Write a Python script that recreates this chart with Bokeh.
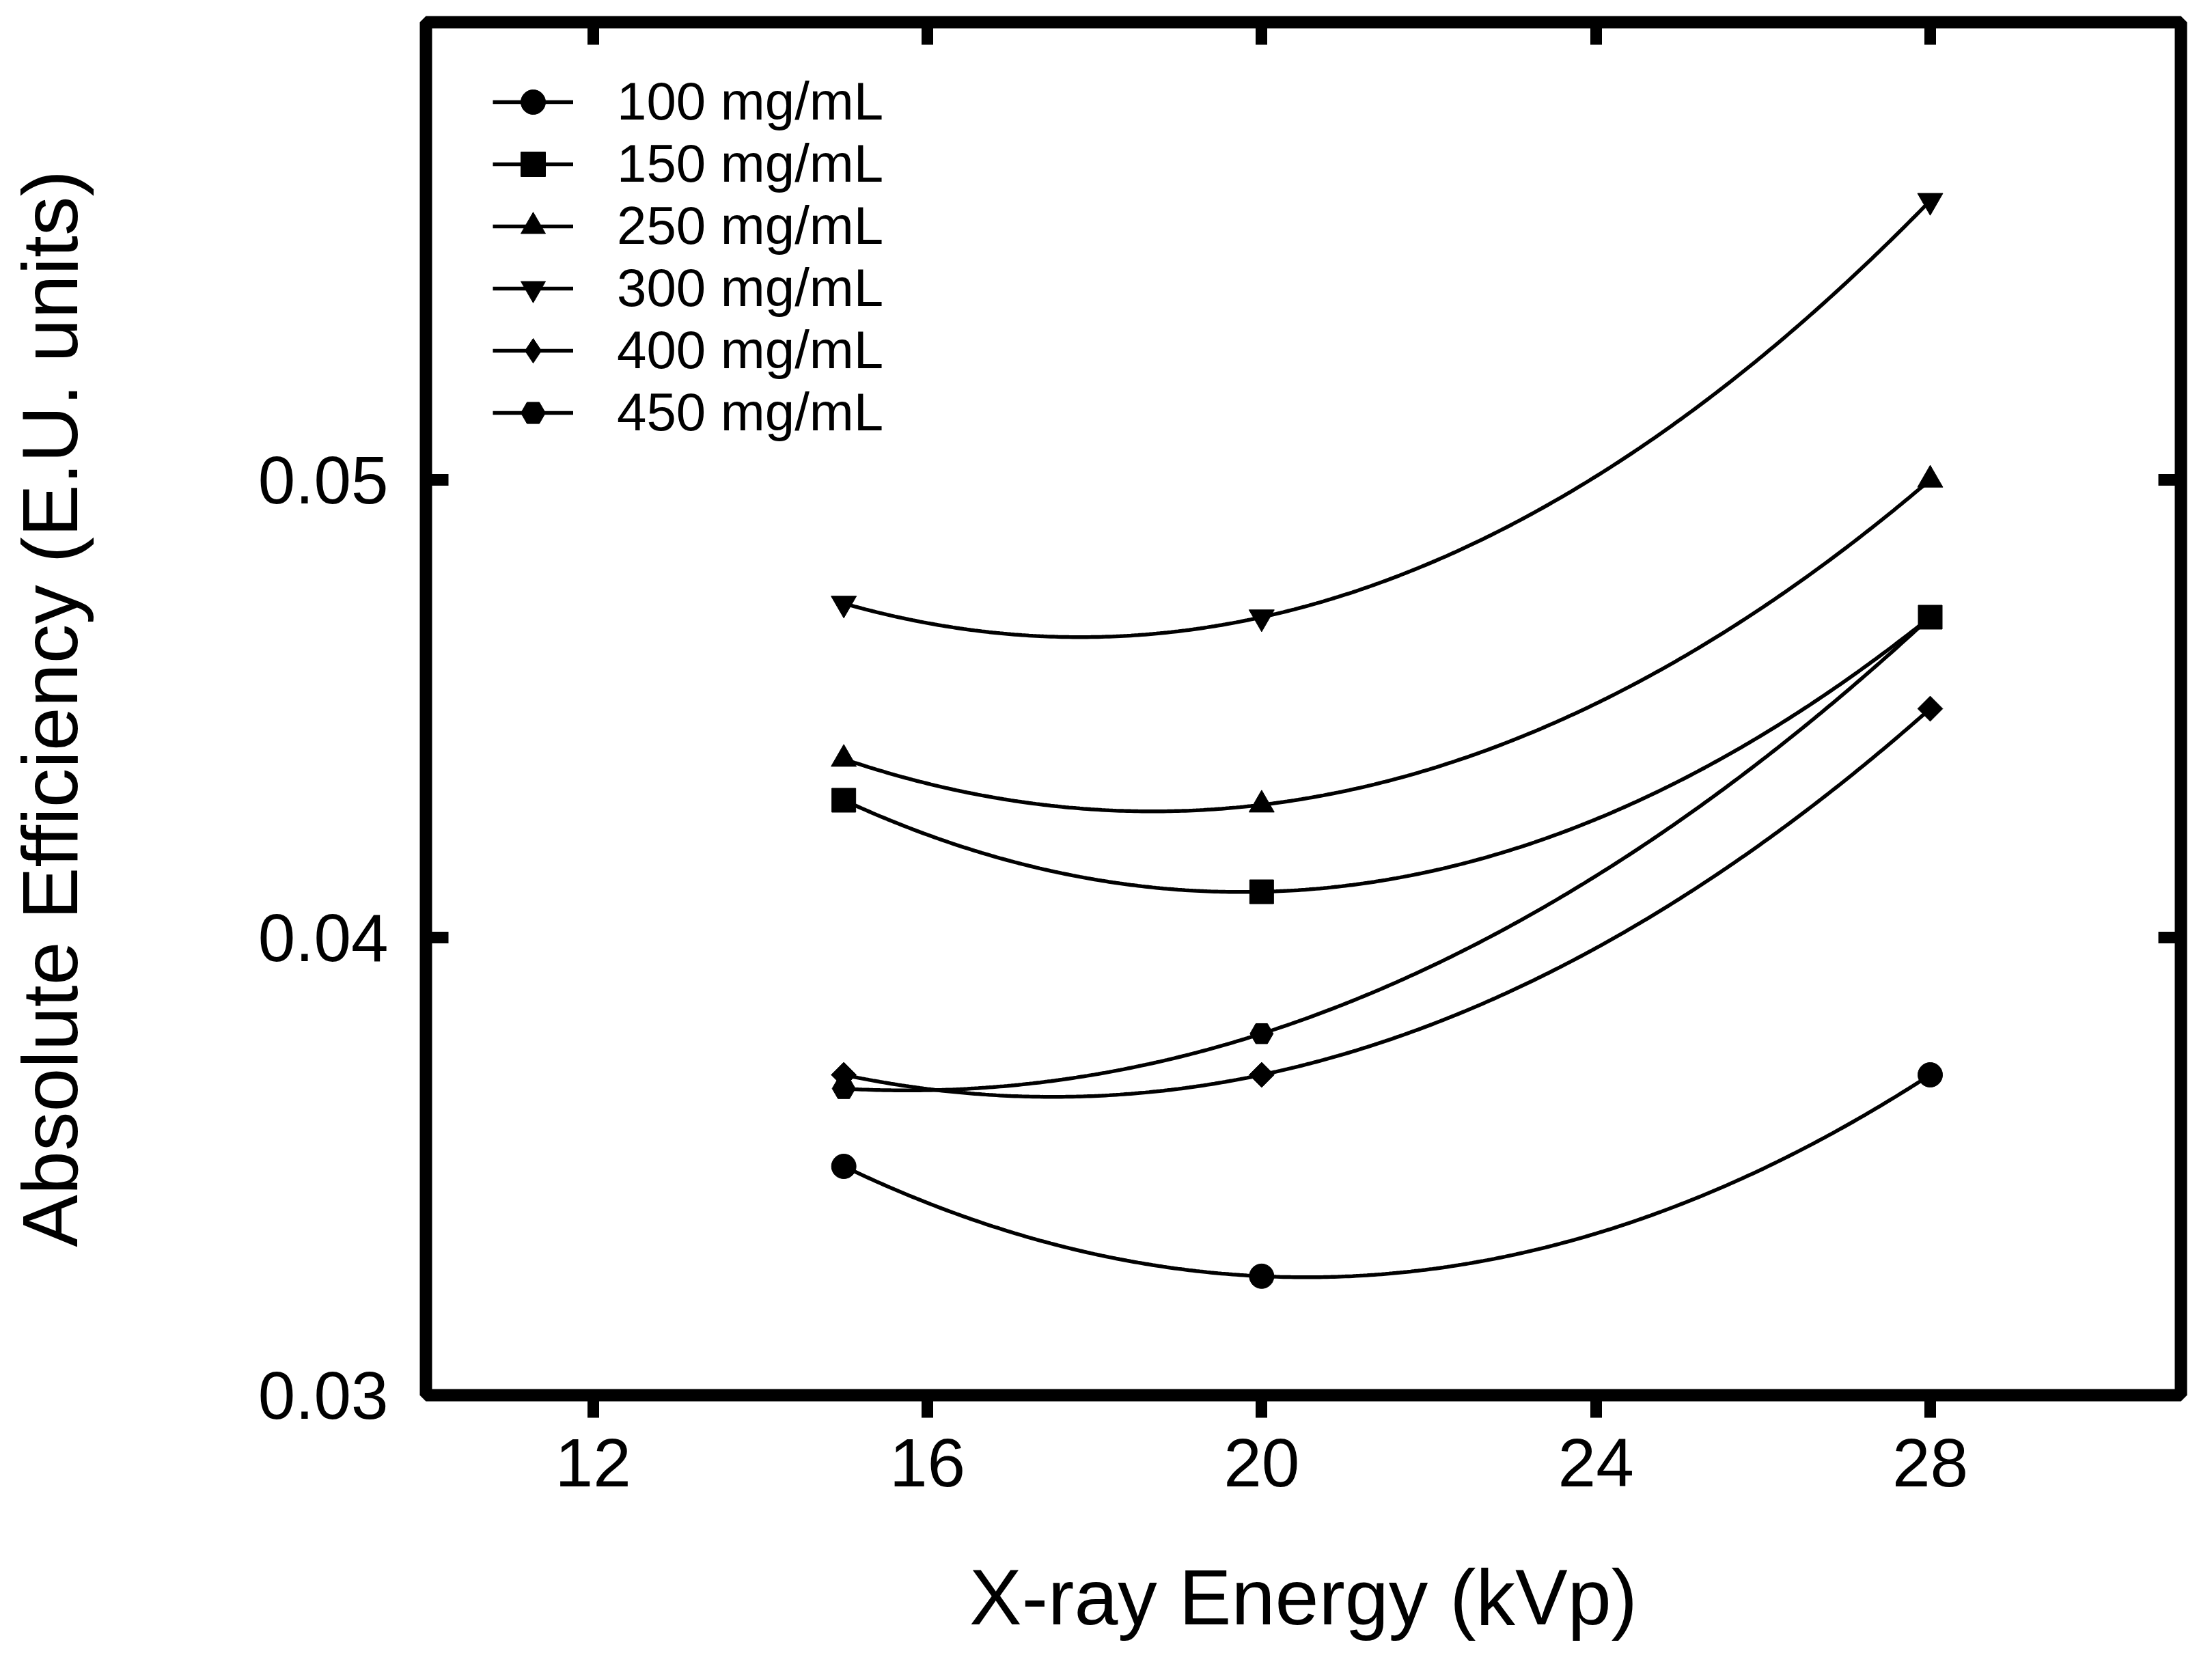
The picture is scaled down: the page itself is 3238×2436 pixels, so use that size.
import numpy as np
from bokeh.plotting import figure
from bokeh.models import FixedTicker, LinearAxis, Legend, LegendItem, Range1d
from bokeh.embed import file_html
from bokeh.resources import INLINE

# ---- data ----
energy_kvp = [15, 20, 28]
eff_100 = [0.0350, 0.0326, 0.0370]
eff_150 = [0.0430, 0.0410, 0.0470]
eff_250 = [0.0439, 0.0429, 0.0500]
eff_300 = [0.0473, 0.0470, 0.0561]
eff_400 = [0.0370, 0.0370, 0.0450]
eff_450 = [0.0367, 0.0379, 0.0470]
series_labels = ["100 mg/mL", "150 mg/mL", "250 mg/mL", "300 mg/mL", "400 mg/mL", "450 mg/mL"]
x_ticks = [12, 16, 20, 24, 28]
y_ticks = [0.03, 0.04, 0.05]
y_tick_labels = ["0.03", "0.04", "0.05"]
x_title = "X-ray Energy (kVp)"
y_title = "Absolute Efficiency (E.U. units)"

series = [eff_100, eff_150, eff_250, eff_300, eff_400, eff_450]
markers = ["circle", "square", "triangle", "inverted_triangle", "square", "hex"]
sizes = [36, 35, 37, 37, 26, 34]
angles = [0, 0, 0, 0, np.pi / 4, 0]

FONT = "Liberation Sans"
W, H = 3238, 2436
BL, BR, BT, BB = 623, 46, 32, 394

p = figure(width=W, height=H,
           x_range=Range1d(10, 31), y_range=Range1d(0.03, 0.06),
           output_backend="svg", toolbar_location=None,
           min_border_left=BL, min_border_right=BR,
           min_border_top=BT, min_border_bottom=BB)
p.xgrid.visible = False
p.ygrid.visible = False
p.outline_line_color = "black"
p.outline_line_width = 18
p.outline_line_alpha = 1.0
p.background_fill_color = "white"
p.border_fill_color = "white"

# bottom axis (ticks outward)
xa = p.xaxis[0]
xa.ticker = FixedTicker(ticks=x_ticks, minor_ticks=[])
xa.axis_line_color = None
xa.major_tick_in = 0
xa.major_tick_out = 33
xa.major_tick_line_width = 17
xa.major_tick_line_color = "black"
xa.minor_tick_line_color = None
xa.major_label_text_font = FONT
xa.major_label_text_font_size = "100px"
xa.major_label_text_color = "black"
xa.major_label_standoff = 31
xa.axis_label = x_title
xa.axis_label_text_font = FONT
xa.axis_label_text_font_size = "115px"
xa.axis_label_text_font_style = "normal"
xa.axis_label_text_color = "black"
xa.axis_label_standoff = 95

# left axis (ticks inward)
ya = p.yaxis[0]
ya.ticker = FixedTicker(ticks=y_ticks, minor_ticks=[])
ya.major_label_overrides = {t: s for t, s in zip(y_ticks, y_tick_labels)}
ya.axis_line_color = None
ya.major_tick_in = 33
ya.major_tick_out = 0
ya.major_tick_line_width = 17
ya.major_tick_line_color = "black"
ya.minor_tick_line_color = None
ya.major_label_text_font = FONT
ya.major_label_text_font_size = "98px"
ya.major_label_text_color = "black"
ya.major_label_standoff = 55
ya.axis_label = y_title
ya.axis_label_text_font = FONT
ya.axis_label_text_font_size = "115px"
ya.axis_label_text_font_style = "normal"
ya.axis_label_text_color = "black"
ya.axis_label_standoff = 238

# top and right axes: inward ticks only, no labels drawn
for ticks, side in ((x_ticks, "above"), (y_ticks, "right")):
    ax = LinearAxis(ticker=FixedTicker(ticks=ticks, minor_ticks=[]),
                    axis_line_color=None, major_tick_in=33, major_tick_out=0,
                    major_tick_line_width=17, major_tick_line_color="black",
                    minor_tick_line_color=None, major_label_text_font_size="1px",
                    major_label_text_color=None, major_label_standoff=0)
    p.add_layout(ax, side)

items = []
xs_dense = np.linspace(min(energy_kvp), max(energy_kvp), 300)
for ys, lab, mk, sz, ang in zip(series, series_labels, markers, sizes, angles):
    coef = np.polyfit(energy_kvp, ys, 2)  # smooth curve through the three measured points
    lr = p.line(xs_dense, np.polyval(coef, xs_dense), line_color="black", line_width=5.5)
    rends = [lr]
    if ang != 0:
        # diamond hidden under the rotated square, so the legend shows a diamond
        dr = p.scatter(energy_kvp, ys, marker="diamond", size=sz * 1.35,
                       fill_color="black", line_color="black", line_width=1)
        rends.append(dr)
    sr = p.scatter(energy_kvp, ys, marker=mk, size=sz, angle=ang,
                   fill_color="black", line_color="black", line_width=1)
    if ang == 0:
        rends.append(sr)
    items.append(LegendItem(label=lab, renderers=rends))

legend = Legend(items=items, location=(98, 1393),
                glyph_width=118, glyph_height=90, label_height=90, spacing=-1,
                padding=0, margin=0, label_standoff=64,
                label_text_font=FONT, label_text_font_size="78px",
                label_text_color="black",
                border_line_color=None, background_fill_alpha=0.0)
p.add_layout(legend)

open("out.html", "w").write(file_html(p, INLINE))
